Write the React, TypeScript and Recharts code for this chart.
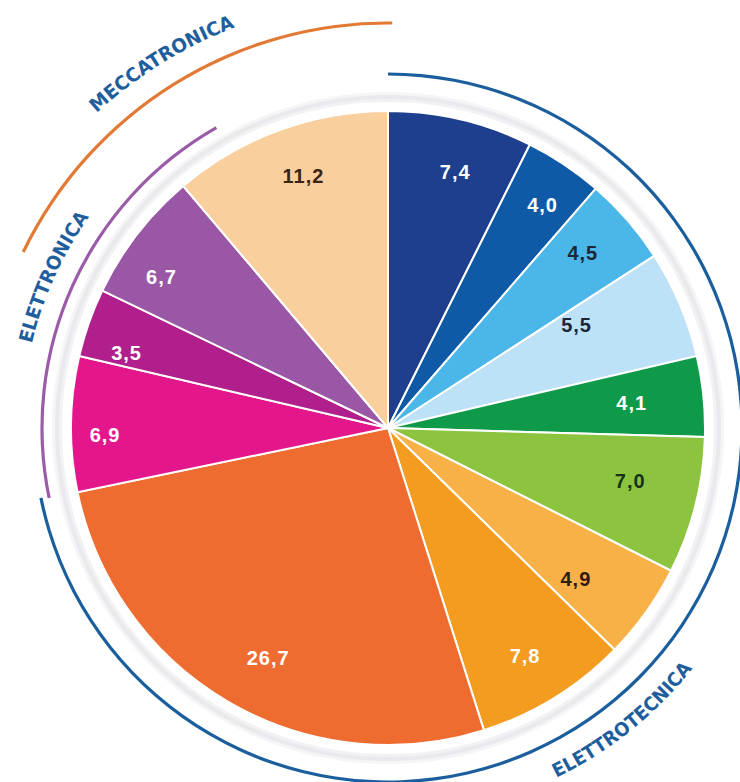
import { PieChart, Pie, Cell } from "recharts";

// quote percentuali, in senso orario da ore 12
const shareValues = [7.4, 4.0, 4.5, 5.5, 4.1, 7.0, 4.9, 7.8, 26.7, 6.9, 3.5, 6.7, 11.2];
const groupNames = ["ELETTROTECNICA", "ELETTRONICA", "MECCATRONICA"];
const groupSizes = [9, 3, 1];

const sliceColors = [
  "#1d3f8d", "#0e5aa6", "#4bb6e8", "#bde1f6", "#0f9a49", "#8cc43f", "#f8b146",
  "#f49c1f", "#ef6c30", "#e4168b", "#b01f8c", "#9a57a6", "#f9cf9d",
];
const labelColors = [
  "#ffffff", "#ffffff", "#1c2636", "#1c2636", "#ffffff", "#17331a", "#2e1d0e",
  "#ffffff", "#ffffff", "#ffffff", "#ffffff", "#ffffff", "#3a2416",
];
// piccoli spostamenti delle etichette [raggio, gradi]
const labelNudge = [
  [3, -1.4], [9, -1], [0, 1], [-47, 5.7], [-17, 0], [-14, 1.8], [-21, -3.2],
  [4, -0.6], [-3, 2.8], [21, 2.1], [10, 3.4], [10, 4.1], [4, -1.6],
];

// stile degli archi esterni
const groupStyle = [
  { color: "#1b5e9d", radius: 354, pre: 0, post: 0.3, textR: 388, textShift: -12, below: true, len: 176 },
  { color: "#9a5ba8", radius: 346, pre: 0, post: 10.5, textR: 366, textShift: 0, below: false, len: 140 },
  { color: "#e27a36", radius: 405, pre: 24, post: 0.6, textR: 429, textShift: 0, below: false, len: 164 },
];

const CX = 388;
const CY = 428;
const R = 317;
const LABEL_R = 262;
const RAD = Math.PI / 180;

const sliceData = shareValues.map((value, i) => ({ name: `s${i}`, value }));
const total = shareValues.reduce((s, v) => s + v, 0);
const angleAt = (c: number) => 90 - (c / total) * 360;

const groups = groupNames.map((name, g) => {
  const first = groupSizes.slice(0, g).reduce((s, v) => s + v, 0);
  const before = shareValues.slice(0, first).reduce((s, v) => s + v, 0);
  const inside = shareValues.slice(first, first + groupSizes[g]).reduce((s, v) => s + v, 0);
  const st = groupStyle[g];
  const start = angleAt(before) + st.pre;
  const end = angleAt(before + inside) - st.post;
  return { name, start, end, ...st };
});

const fmt = (v: number) => v.toFixed(1).replace(".", ",");

const pt = (r: number, a: number) => [CX + r * Math.cos(-a * RAD), CY + r * Math.sin(-a * RAD)];

function textArc(r: number, mid: number, below: boolean) {
  const a1 = below ? mid - 60 : mid + 60;
  const a2 = below ? mid + 60 : mid - 60;
  const [x1, y1] = pt(r, a1);
  const [x2, y2] = pt(r, a2);
  return `M${x1},${y1} A${r},${r} 0 0 ${below ? 0 : 1} ${x2},${y2}`;
}

const groupLabel = (g: number) => () => {
  const grp = groups[g];
  const mid = (grp.start + grp.end) / 2 + grp.textShift;
  const id = `arc-text-${g}`;
  return (
    <g>
      <defs>
        <path id={id} d={textArc(grp.textR, mid, grp.below)} fill="none" />
      </defs>
      <text
        fill="#1f5e9c"
        fontSize={19}
        fontWeight="bold"
        fontFamily="'Liberation Sans Narrow', 'DejaVu Sans Condensed', 'Open Sans', sans-serif"
      >
        <textPath href={`#${id}`} startOffset="50%" textAnchor="middle" textLength={grp.len} lengthAdjust="spacingAndGlyphs">
          {grp.name}
        </textPath>
      </text>
    </g>
  );
};

const valueLabel = (props: any) => {
  const { cx, cy, midAngle, index } = props;
  const [dr, da] = labelNudge[index];
  const r = LABEL_R + dr;
  const a = (midAngle + da) * RAD;
  const x = cx + r * Math.cos(-a);
  const y = cy + r * Math.sin(-a);
  return (
    <text
      x={x}
      y={y}
      fill={labelColors[index]}
      textAnchor="middle"
      dominantBaseline="central"
      fontSize={20}
      fontWeight="bold"
      letterSpacing={1}
      fontFamily="'Liberation Sans', Arial, sans-serif"
    >
      {fmt(shareValues[index])}
    </text>
  );
};

const ringLayers = [
  { r: 336, fill: "#f5f5f8" },
  { r: 333, fill: "#e9e9ee" },
  { r: 329, fill: "#f2f2f5" },
  { r: 326, fill: "#ffffff" },
];

export default function App() {
  return (
    <div style={{ position: "absolute", left: 0, top: 0, width: 740, height: 782, background: "#fff" }}>
      <PieChart width={740} height={782} margin={{ top: 0, right: 0, bottom: 0, left: 0 }}>
        {groups.map((grp, g) => (
          <Pie
            key={grp.name}
            data={[{ name: grp.name, value: 1 }]}
            dataKey="value"
            cx={CX}
            cy={CY}
            startAngle={grp.start}
            endAngle={grp.end}
            innerRadius={grp.radius - 1.6}
            outerRadius={grp.radius + 1.6}
            fill={grp.color}
            stroke="none"
            label={groupLabel(g)}
            labelLine={false}
            isAnimationActive={false}
          />
        ))}
        {ringLayers.map((l) => (
          <Pie
            key={l.r}
            data={[{ name: "ring", value: 1 }]}
            dataKey="value"
            cx={CX}
            cy={CY}
            startAngle={0}
            endAngle={360}
            outerRadius={l.r}
            fill={l.fill}
            stroke="none"
            isAnimationActive={false}
          />
        ))}
        <Pie
          data={sliceData}
          dataKey="value"
          cx={CX}
          cy={CY}
          startAngle={90}
          endAngle={-270}
          outerRadius={R}
          stroke="#ffffff"
          strokeWidth={2}
          label={valueLabel}
          labelLine={false}
          isAnimationActive={false}
        >
          {sliceData.map((d, i) => (
            <Cell key={d.name} fill={sliceColors[i]} />
          ))}
        </Pie>
      </PieChart>
    </div>
  );
}
